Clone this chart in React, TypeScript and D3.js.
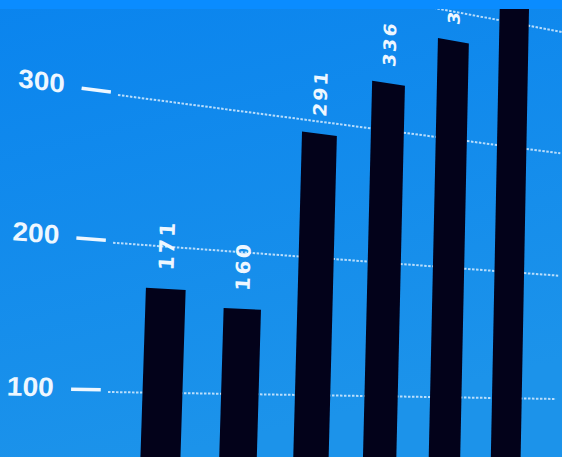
import React from 'react'
import * as d3 from 'd3'

// values (bar 5 label is cut off, bar 6 runs off the top)
const categories = ['A', 'B', 'C', 'D', 'E', 'F']
const values = [171, 160, 291, 336, 377, 430]
const yTicks = [100, 200, 300, 400]

const W = 562
const H = 457

// flat (un-skewed) chart space
const x = d3
  .scaleBand()
  .domain(categories)
  .range([108, 615])
  .paddingInner(0.5)
  .paddingOuter(0.42)
const y = d3.scaleLinear().domain([0, 500]).range([540, -202])

// --- perspective of the photo: homography from flat space to the picture
const solve = (A: number[][], b: number[]) => {
  const n = b.length
  const M = A.map((r, i) => [...r, b[i]])
  for (let c = 0; c < n; c++) {
    let p = c
    for (let r = c + 1; r < n; r++) if (Math.abs(M[r][c]) > Math.abs(M[p][c])) p = r
    ;[M[c], M[p]] = [M[p], M[c]]
    for (let r = 0; r < n; r++) {
      if (r === c) continue
      const f = M[r][c] / M[c][c]
      for (let k = c; k <= n; k++) M[r][k] -= f * M[c][k]
    }
  }
  return M.map((r, i) => r[n] / r[i])
}

const fitHomography = (src: number[][], dst: number[][]) => {
  const A: number[][] = []
  const b: number[] = []
  src.forEach(([sx, sy], i) => {
    const [X, Y] = dst[i]
    A.push([sx, sy, 1, 0, 0, 0, -sx * X, -sy * X])
    b.push(X)
    A.push([0, 0, 0, sx, sy, 1, -sx * Y, -sy * Y])
    b.push(Y)
  })
  return solve(A, b)
}

const gx0 = x.range()[0]
const gx1 = x.range()[1] + 14
const hm = fitHomography(
  [
    [gx0, y(100)],
    [gx0, y(300)],
    [x('F')!, y(100)],
    [x('F')!, y(300)],
  ],
  [
    [108, 392],
    [118, 95],
    [492, 398],
    [497, 145],
  ]
)

const proj = (px: number, py: number): [number, number] => {
  const [a, b, c, d, e, f, g, h] = hm
  const w = g * px + h * py + 1
  return [(a * px + b * py + c) / w, (d * px + e * py + f) / w]
}

// local affine of the projection, for text
const local = (px: number, py: number) => {
  const [X, Y] = proj(px, py)
  const [Xa, Ya] = proj(px + 1, py)
  const [Xb, Yb] = proj(px, py + 1)
  return `matrix(${Xa - X},${Ya - Y},${Xb - X},${Yb - Y},${X},${Y})`
}

const poly = (pts: [number, number][]) =>
  'M' + pts.map(([px, py]) => proj(px, py).join(',')).join('L') + 'Z'

const App = () => {
  const bw = x.bandwidth()
  return (
    <svg
      width={W}
      height={H}
      style={{ position: 'absolute', left: 0, top: 0, display: 'block' }}
    >
      <defs>
        <linearGradient id="bg" x1="0" y1="0" x2="0.3" y2="1">
          <stop offset="0" stopColor="#0a84ee" />
          <stop offset="1" stopColor="#1c93ea" />
        </linearGradient>
      </defs>
      <rect width={W} height={H} fill="url(#bg)" />

      {/* dotted grid lines */}
      {yTicks.map((t) => {
        const [x1, y1] = proj(gx0, y(t))
        const [x2, y2] = proj(gx1, y(t))
        return (
          <line
            key={'g' + t}
            x1={x1}
            y1={y1}
            x2={x2}
            y2={y2}
            stroke="#d6ecff"
            strokeWidth={2}
            strokeDasharray="2.5 1.5"
            opacity={0.85}
          />
        )
      })}

      {/* tick marks + labels */}
      {yTicks.map((t) => {
        const [x1, y1] = proj(gx0 - 35, y(t) - 2)
        const [x2, y2] = proj(gx0 - 7, y(t) - 2)
        return (
          <g key={'t' + t}>
            <line
              x1={x1}
              y1={y1}
              x2={x2}
              y2={y2}
              stroke="#eef7ff"
              strokeWidth={3.5}
            />
            <text
              transform={local(gx0 - 51, y(t) - 4)}
              textAnchor="end"
              dominantBaseline="central"
              fontFamily="Liberation Sans"
              fontWeight="bold"
              fontSize={26}
              fill="#eef7ff"
            >
              {t}
            </text>
          </g>
        )
      })}

      {/* bars */}
      {categories.map((c, i) => {
        const x0 = x(c)!
        return (
          <path
            key={c}
            d={poly([
              [x0, y(values[i])],
              [x0 + bw, y(values[i])],
              [x0 + bw, y(0)],
              [x0, y(0)],
            ])}
            fill="#03021a"
          />
        )
      })}

      {/* value labels, rotated */}
      {categories.map((c, i) => (
        <g key={'l' + c} transform={local(x(c)! + bw / 2, y(values[i]) - 19)}>
          <text
            transform="rotate(-90)"
            textAnchor="start"
            dominantBaseline="central"
            fontFamily="DejaVu Sans"
            fontWeight="bold"
            fontSize={21}
            letterSpacing={2.5}
            fill="#eef7ff"
          >
            {values[i]}
          </text>
        </g>
      ))}

      {/* bright strip at the very top of the photo */}
      <rect width={W} height={9} fill="#0a8cff" />
    </svg>
  )
}

export default App
